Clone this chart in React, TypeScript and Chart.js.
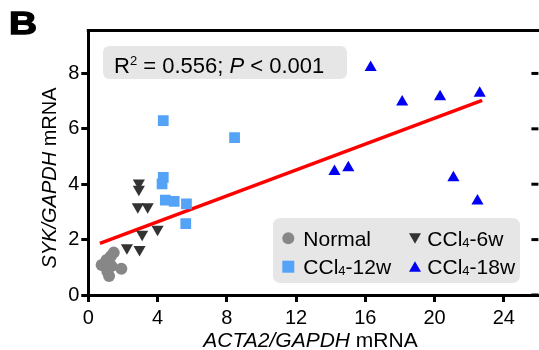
import React, { useEffect, useRef } from "react";
import { Chart, registerables } from "chart.js";
Chart.register(...registerables);

// ---- data ----
const normalX = [1.47, 1.3, 1.05, 0.77, 1.34, 1.91, 1.2, 1.1];
const normalY = [1.53, 1.4, 1.26, 1.08, 1.05, 0.95, 0.69, 0.85];
const w6X = [2.92, 2.92, 2.86, 3.43, 3.11, 4.0, 2.23, 2.96];
const w6Y = [4.04, 3.82, 3.19, 3.19, 2.19, 2.37, 1.71, 1.64];
const w12X = [4.33, 8.45, 4.33, 4.26, 4.45, 4.96, 5.67, 5.63];
const w12Y = [6.3, 5.68, 4.25, 4.01, 3.43, 3.38, 3.29, 2.58];
const w18X = [16.31, 18.13, 20.32, 22.61, 14.22, 15.02, 21.09, 22.48];
const w18Y = [8.21, 6.97, 7.16, 7.28, 4.46, 4.59, 4.23, 3.39];
const fitX = [0.67, 22.75];
const fitY = [1.86, 7.03];
const xTicks = [0, 4, 8, 12, 16, 20, 24];
const yTicks = [0, 2, 4, 6, 8];
const seriesNames = ["Normal", "CCl4-6w", "CCl4-12w", "CCl4-18w"];

const FONT = "Arial, 'Liberation Sans', Helvetica, sans-serif";
const W = 546;
const H = 350;
const AREA = { left: 88.3, top: 30.5, right: 542.5, bottom: 295 };

const COLORS = {
  normal: "#878787",
  w6: "#333333",
  w12: "#55a3f6",
  w18: "#0000f2",
  fit: "#ff0000",
};

const pts = (xs: number[], ys: number[]) => xs.map((x, i) => ({ x, y: ys[i] }));

type Part = { t: string; size: number; italic?: boolean; dy?: number };

function drawParts(ctx: CanvasRenderingContext2D, parts: Part[], x: number, y: number) {
  let cx = x;
  for (const p of parts) {
    ctx.font = `${p.italic ? "italic " : ""}${p.size}px ${FONT}`;
    ctx.fillText(p.t, cx, y + (p.dy || 0));
    cx += ctx.measureText(p.t).width;
  }
  return cx - x;
}

function measureParts(ctx: CanvasRenderingContext2D, parts: Part[]) {
  let w = 0;
  for (const p of parts) {
    ctx.font = `${p.italic ? "italic " : ""}${p.size}px ${FONT}`;
    w += ctx.measureText(p.t).width;
  }
  return w;
}

function roundRect(ctx: CanvasRenderingContext2D, x: number, y: number, w: number, h: number, r: number) {
  ctx.beginPath();
  ctx.moveTo(x + r, y);
  ctx.lineTo(x + w - r, y);
  ctx.quadraticCurveTo(x + w, y, x + w, y + r);
  ctx.lineTo(x + w, y + h - r);
  ctx.quadraticCurveTo(x + w, y + h, x + w - r, y + h);
  ctx.lineTo(x + r, y + h);
  ctx.quadraticCurveTo(x, y + h, x, y + h - r);
  ctx.lineTo(x, y + r);
  ctx.quadraticCurveTo(x, y, x + r, y);
  ctx.closePath();
}

function marker(ctx: CanvasRenderingContext2D, kind: string, x: number, y: number, color: string) {
  ctx.fillStyle = color;
  ctx.beginPath();
  if (kind === "circle") {
    ctx.arc(x, y, 6, 0, Math.PI * 2);
  } else if (kind === "rect") {
    ctx.rect(x - 6, y - 6, 12, 12);
  } else if (kind === "down") {
    ctx.moveTo(x - 6, y - 5);
    ctx.lineTo(x + 6, y - 5);
    ctx.lineTo(x, y + 5.5);
    ctx.closePath();
  } else {
    ctx.moveTo(x - 6, y + 5);
    ctx.lineTo(x + 6, y + 5);
    ctx.lineTo(x, y - 5.5);
    ctx.closePath();
  }
  ctx.fill();
}

function legendParts(name: string): Part[] {
  const m = name.match(/^(CCl)(4)(.*)$/);
  if (!m) return [{ t: name, size: 21 }];
  return [
    { t: m[1], size: 21 },
    { t: m[2], size: 13, dy: 1 },
    { t: m[3], size: 21 },
  ];
}

const decor = {
  id: "decor",
  beforeDatasetsDraw(chart: any) {
    const ctx: CanvasRenderingContext2D = chart.ctx;
    ctx.save();
    // R² box
    ctx.fillStyle = "#e6e6e6";
    roundRect(ctx, 103, 46, 244, 33, 7);
    ctx.fill();
    ctx.fillStyle = "#000";
    ctx.textBaseline = "alphabetic";
    ctx.textAlign = "left";
    drawParts(
      ctx,
      [
        { t: "R", size: 22 },
        { t: "2", size: 13, dy: -8 },
        { t: " = 0.556; ", size: 22 },
        { t: "P", size: 22, italic: true },
        { t: " < 0.001", size: 22 },
      ],
      114,
      73.3
    );

    // legend box
    ctx.fillStyle = "#e6e6e6";
    roundRect(ctx, 273, 218, 247, 65, 8);
    ctx.fill();
    const items = [
      { name: seriesNames[0], kind: "circle", color: COLORS.normal, mx: 288.3, my: 238.3, tx: 303.3, ty: 245.5 },
      { name: seriesNames[1], kind: "down", color: COLORS.w6, mx: 415, my: 238.3, tx: 427.3, ty: 245.5 },
      { name: seriesNames[2], kind: "rect", color: COLORS.w12, mx: 288.3, my: 266.7, tx: 303.3, ty: 274.3 },
      { name: seriesNames[3], kind: "up", color: COLORS.w18, mx: 415, my: 266.7, tx: 427.3, ty: 274.3 },
    ];
    for (const it of items) {
      marker(ctx, it.kind, it.mx, it.my, it.color);
      ctx.fillStyle = "#000";
      drawParts(ctx, legendParts(it.name), it.tx, it.ty);
    }
    ctx.restore();
  },
  afterDraw(chart: any) {
    const ctx: CanvasRenderingContext2D = chart.ctx;
    const a = chart.chartArea;
    const ys = chart.scales.y;
    ctx.save();
    ctx.strokeStyle = "#000";
    ctx.lineWidth = 3;
    // top border
    ctx.beginPath();
    ctx.moveTo(a.left - 1.5, a.top);
    ctx.lineTo(a.right + 2, a.top);
    ctx.stroke();
    // right-side ticks (inward)
    for (const v of yTicks) {
      const py = ys.getPixelForValue(v);
      ctx.beginPath();
      ctx.moveTo(a.right - 7, py);
      ctx.lineTo(a.right, py);
      ctx.stroke();
    }

    ctx.fillStyle = "#000";
    ctx.textBaseline = "alphabetic";
    // x title
    const xParts: Part[] = [
      { t: "ACTA2/GAPDH", size: 21, italic: true },
      { t: " mRNA", size: 21 },
    ];
    const xw = measureParts(ctx, xParts);
    drawParts(ctx, xParts, 310.5 - xw / 2, 346.5);

    // y title
    const yParts: Part[] = [
      { t: "SYK/GAPDH", size: 20, italic: true },
      { t: " mRNA", size: 20 },
    ];
    const yw = measureParts(ctx, yParts);
    ctx.save();
    ctx.translate(56, 178);
    ctx.rotate(-Math.PI / 2);
    drawParts(ctx, yParts, -yw / 2, 0);
    ctx.restore();

    // panel letter
    ctx.save();
    ctx.translate(9, 34);
    ctx.scale(1.25, 1);
    ctx.font = `bold 31px ${FONT}`;
    ctx.lineWidth = 1.3;
    ctx.fillText("B", 0, 0);
    ctx.strokeText("B", 0, 0);
    ctx.restore();

    ctx.restore();
  },
};

export default function App() {
  const ref = useRef<HTMLCanvasElement | null>(null);
  useEffect(() => {
    if (!ref.current) return;
    const tickFont = { family: FONT, size: 20 };
    const chart = new Chart(ref.current, {
      type: "scatter",
      data: {
        datasets: [
          {
            type: "line",
            label: "fit",
            data: pts(fitX, fitY),
            borderColor: COLORS.fit,
            borderWidth: 3.5,
            pointRadius: 0,
            fill: false,
            order: 10,
          } as any,
          {
            label: seriesNames[0],
            data: pts(normalX, normalY),
            pointStyle: "circle",
            pointRadius: 6,
            backgroundColor: COLORS.normal,
            borderWidth: 0,
            order: 1,
          },
          {
            label: seriesNames[1],
            data: pts(w6X, w6Y),
            pointStyle: "triangle",
            rotation: 180,
            pointRadius: 7,
            backgroundColor: COLORS.w6,
            borderWidth: 0,
            order: 1,
          },
          {
            label: seriesNames[2],
            data: pts(w12X, w12Y),
            pointStyle: "rect",
            pointRadius: 7.6,
            backgroundColor: COLORS.w12,
            borderWidth: 0,
            order: 1,
          },
          {
            label: seriesNames[3],
            data: pts(w18X, w18Y),
            pointStyle: "triangle",
            pointRadius: 7,
            backgroundColor: COLORS.w18,
            borderWidth: 0,
            order: 1,
          },
        ],
      },
      options: {
        animation: false,
        responsive: false,
        devicePixelRatio: 1,
        layout: { padding: { left: 0, top: AREA.top, right: W - AREA.right, bottom: 0 } },
        plugins: { legend: { display: false }, tooltip: { enabled: false } },
        scales: {
          x: {
            type: "linear",
            min: 0,
            max: 26,
            afterBuildTicks: (s: any) => {
              s.ticks = xTicks.map((v) => ({ value: v }));
            },
            afterFit: (s: any) => {
              s.height = H - AREA.bottom;
            },
            grid: { drawOnChartArea: false, drawTicks: true, tickLength: 7, tickWidth: 3, tickColor: "#000", color: "#000", lineWidth: 3 },
            border: { display: true, color: "#000", width: 3 },
            ticks: { font: tickFont, color: "#000", padding: 4, maxRotation: 0, autoSkip: false },
          },
          y: {
            type: "linear",
            min: 0,
            max: 9.55,
            afterBuildTicks: (s: any) => {
              s.ticks = yTicks.map((v) => ({ value: v }));
            },
            afterFit: (s: any) => {
              s.width = AREA.left;
            },
            grid: { drawOnChartArea: false, drawTicks: true, tickLength: 7, tickWidth: 3, tickColor: "#000", color: "#000", lineWidth: 3 },
            border: { display: true, color: "#000", width: 3 },
            ticks: { font: tickFont, color: "#000", padding: 2, autoSkip: false },
          },
        },
      },
      plugins: [decor],
    });
    return () => chart.destroy();
  }, []);
  return (
    <div style={{ position: "absolute", left: 0, top: 0, width: 539, height: 350, overflow: "hidden", background: "#fff" }}>
      <canvas ref={ref} width={W} height={H} style={{ display: "block", width: W, height: H }} />
    </div>
  );
}
